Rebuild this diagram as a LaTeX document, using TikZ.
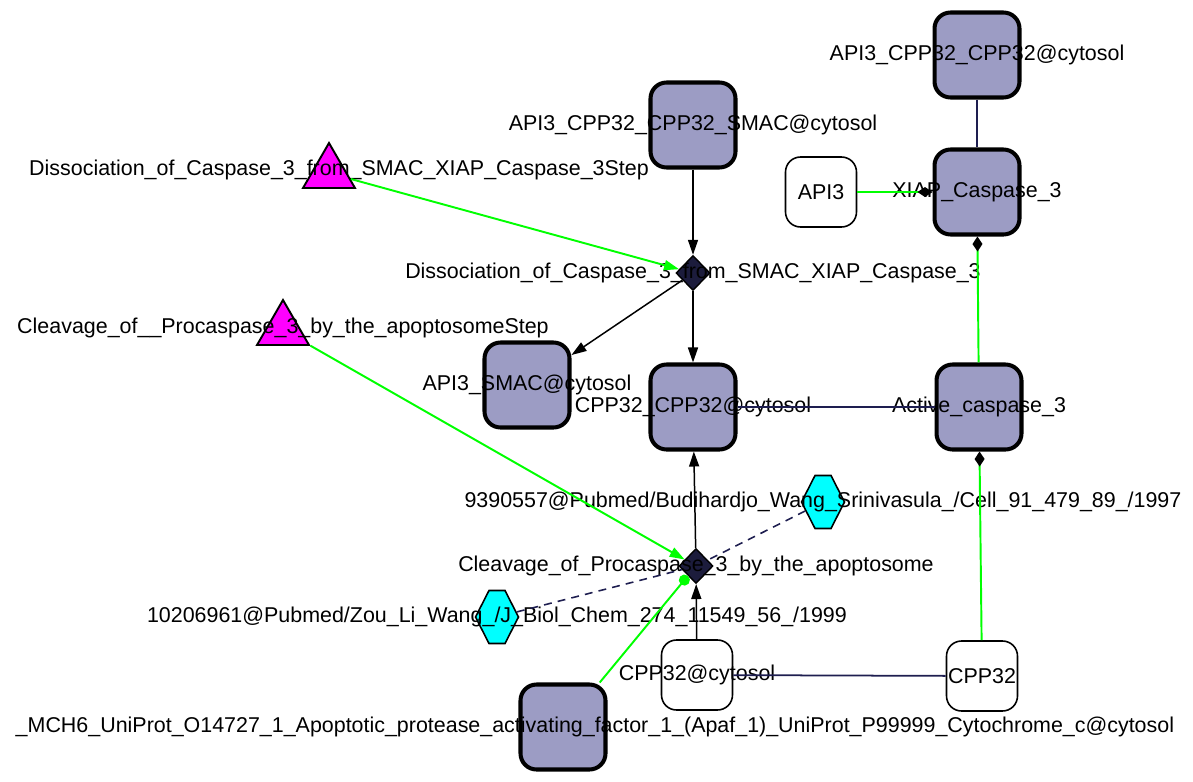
\documentclass[tikz,border=0pt]{standalone}
\usepackage{fontspec}
\setmainfont{Liberation Sans}
\usepackage{tikz}
\usetikzlibrary{shapes.geometric,shapes.symbols,arrows.meta}
\definecolor{cplxgrey}{RGB}{156,156,196}
\definecolor{linknavy}{RGB}{30,30,80}
\definecolor{rxnnavy}{RGB}{28,28,60}
\definecolor{stepmag}{RGB}{255,0,255}
\definecolor{refcyan}{RGB}{0,255,255}
\definecolor{actgreen}{RGB}{0,255,0}

\begin{document}
\begin{tikzpicture}[x=0.02cm, y=-0.02cm,
    every label/.style={font=\fontsize{12.2}{14}\selectfont, inner sep=0pt},
    cplx/.style={rounded corners=0.32cm, draw=black, line width=2.3pt, fill=cplxgrey, minimum width=1.7cm, minimum height=1.7cm, inner sep=0pt},
    freesp/.style={rounded corners=0.3cm, draw=black, line width=0.9pt, fill=white, minimum width=1.42cm, minimum height=1.4cm, inner sep=0pt},
    rxn/.style={diamond, draw=black, line width=0.8pt, fill=rxnnavy, minimum width=0.68cm, minimum height=0.7cm, inner sep=0pt},
    stepnode/.style={regular polygon, regular polygon sides=3, draw=black, line width=1.1pt, fill=stepmag, minimum size=1.2cm, inner sep=0pt},
    refnode/.style={signal, signal to=east and west, signal pointer angle=126, draw=black, line width=0.9pt, fill=refcyan, minimum width=0.86cm, minimum height=1.06cm, inner sep=0pt},
    prod/.style={-{Triangle[length=0.3cm,width=0.2cm]}, line width=0.85pt, black},
    catal/.style={-{Triangle[length=0.3cm,width=0.2cm]}, line width=1.1pt, actgreen},
    modif/.style={-{Diamond[length=0.3cm,width=0.2cm,black]}, line width=1.1pt, actgreen},
    trig/.style={-{Circle[length=0.22cm]}, line width=1.1pt, actgreen},
    link/.style={line width=1pt, linknavy},
    cite/.style={line width=0.9pt, linknavy, dash pattern=on 4.5pt off 3.5pt}
  ]
    \useasboundingbox (0,0) rectangle (1193,781);

    % species
    \node[cplx, label={center:API3\_CPP32\_CPP32\_SMAC@cytosol}] (smacCplx) at (693,125) {};
    \node[cplx, label={center:API3\_CPP32\_CPP32@cytosol}] (cppTrimer) at (977,55) {};
    \node[cplx, label={center:XIAP\_Caspase\_3}] (xiapC3) at (977,192) {};
    \node[freesp, label={center:API3}] (api3) at (821,192) {};
    \node[cplx, label={center:API3\_SMAC@cytosol}] (api3Smac) at (527,385) {};
    \node[cplx, label={center:CPP32\_CPP32@cytosol}] (cppDimer) at (693,407) {};
    \node[cplx, label={center:Active\_caspase\_3}] (activeC3) at (979,407) {};
    \node[freesp, label={center:CPP32@cytosol}] (cppCyto) at (697,675) {};
    \node[freesp, label={center:CPP32}] (cpp32) at (982,676) {};
    \node[cplx, label={[xshift=0.64cm]center:\_MCH6\_UniProt\_O14727\_1\_Apoptotic\_protease\_activating\_factor\_1\_(Apaf\_1)\_UniProt\_P99999\_Cytochrome\_c@cytosol}] (apaf) at (563,727) {};

    % reactions and steps
    \node[rxn, label={center:Dissociation\_of\_Caspase\_3\_from\_SMAC\_XIAP\_Caspase\_3}] (dissRx) at (693,273) {};
    \node[rxn, label={center:Cleavage\_of\_Procaspase\_3\_by\_the\_apoptosome}] (cleavRx) at (696,566) {};
    \node[stepnode, label={[xshift=0.2cm,yshift=0.06cm]center:Dissociation\_of\_Caspase\_3\_from\_SMAC\_XIAP\_Caspase\_3Step}] (dissStep) at (329,173) {};
    \node[stepnode, label={[yshift=0.04cm]center:Cleavage\_of\_\_Procaspase\_3\_by\_the\_apoptosomeStep}] (cleavStep) at (283,330) {};

    % references
    \node[refnode, label={center:9390557@Pubmed/Budihardjo\_Wang\_Srinivasula\_/Cell\_91\_479\_89\_/1997}] (pub1) at (823,502) {};
    \node[refnode, label={center:10206961@Pubmed/Zou\_Li\_Wang\_/J\_Biol\_Chem\_274\_11549\_56\_/1999}] (pub2) at (497,617) {};

    % edges
    \draw[link] (cppTrimer) -- (xiapC3);
    \draw[modif] (api3) -- (xiapC3);
    \draw[modif] (activeC3) -- (xiapC3);
    \draw[modif] (cpp32) -- (activeC3);
    \draw[link] (cppDimer) -- (activeC3);
    \draw[link] (cppCyto) -- (cpp32);
    \draw[prod] (smacCplx) -- (dissRx);
    \draw[prod] (dissRx) -- (api3Smac);
    \draw[prod] (dissRx) -- (cppDimer);
    \draw[catal] (dissStep) -- (dissRx);
    \draw[catal] (cleavStep) -- (cleavRx);
    \draw[prod] (cleavRx) -- (cppDimer);
    \draw[prod] (cppCyto) -- (cleavRx);
    \draw[trig] (apaf) -- (cleavRx);
    \draw[cite] (pub1) -- (cleavRx);
    \draw[cite] (pub2) -- (cleavRx);
  \end{tikzpicture}
\end{document}
